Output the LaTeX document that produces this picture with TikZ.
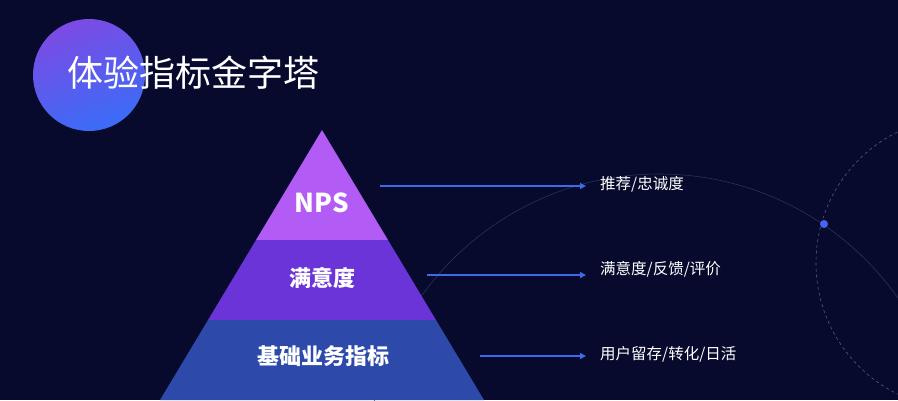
\documentclass[tikz,border=0pt]{standalone}
\usepackage{fontspec}
\newfontfamily\cjk{Noto Sans CJK SC}
\usetikzlibrary{arrows.meta,shadings}
\definecolor{bg}{HTML}{070A2D}
\definecolor{ltop}{HTML}{B35CF5}
\definecolor{lmid}{HTML}{6A34D8}
\definecolor{lbot}{HTML}{2D4AAA}
\definecolor{arr}{HTML}{3D6BE6}
\definecolor{faint}{HTML}{2A3160}
\definecolor{cpur}{HTML}{7C4BE4}
\definecolor{cblu}{HTML}{3A6CF7}
\tikzset{
  lay/.style={text=white},
  lab/.style={text=white,font=\cjk\fontsize{15.5}{17}\selectfont,anchor=west,inner sep=0pt},
  conn/.style={arr,line width=1.3pt,-{Triangle[length=6pt,width=6pt]}}
}
\begin{document}
\begin{tikzpicture}[x=1pt,y=-1pt]
\fill[bg] (0,0) rectangle (898,400);
\useasboundingbox (0,0) rectangle (898,400);
% decorative
\draw[faint,line width=0.6pt] (659,466) circle (292);
\draw[faint!80!white,dashed,line width=0.6pt] (962,263) circle (146);
\fill[cblu!80!cpur] (824,224) circle (4);
\shade[top color=cpur,bottom color=cblu,shading angle=20] (89,75) circle (56);
\node[anchor=west,text=white,font=\cjk\fontsize{36}{40}\selectfont,inner sep=0pt] (title) at (67,73) {体验指标金字塔};
% pyramid
\fill[ltop] (322,130) -- (388,240) -- (256,240) -- cycle;
\fill[lmid] (256,240) -- (388,240) -- (436,320) -- (208,320) -- cycle;
\fill[lbot] (208,320) -- (436,320) -- (484,400) -- (160,400) -- cycle;
\node[lay,font=\cjk\bfseries\fontsize{26}{28}\selectfont] (nps) at (322,203) {NPS};
\node[lay,font=\cjk\bfseries\fontsize{22}{24}\selectfont] (sat) at (322,278) {满意度};
\node[lay,font=\cjk\bfseries\fontsize{22}{24}\selectfont] (base) at (323,356) {基础业务指标};
% labels
\node[lab] (l1) at (600,184) {推荐/忠诚度};
\node[lab] (l2) at (600,269) {满意度/反馈/评价};
\node[lab] (l3) at (600,354) {用户留存/转化/日活};
\coordinate (s1) at (380,186);
\coordinate (s2) at (427,275);
\coordinate (s3) at (480,356);
\draw[conn] (s1) -- ([xshift=-14pt]l1.west |- s1);
\draw[conn] (s2) -- ([xshift=-14pt]l2.west |- s2);
\draw[conn] (s3) -- ([xshift=-14pt]l3.west |- s3);
\end{tikzpicture}
\end{document}
